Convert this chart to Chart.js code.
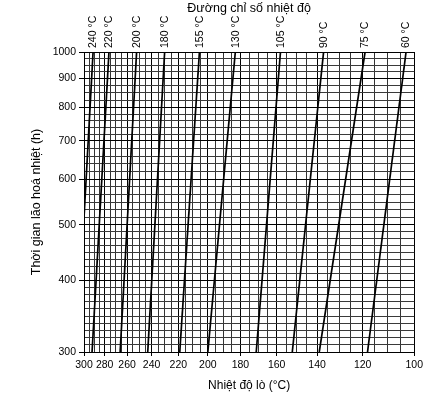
<!DOCTYPE html>
<html><head><meta charset="utf-8">
<script src="https://cdn.jsdelivr.net/npm/chart.js@4/dist/chart.umd.min.js"></script>
<style>html,body{margin:0;padding:0;background:#fff}canvas{display:block}</style>
</head><body>
<canvas id="c" width="426" height="397"></canvas>
<script>
// Temperature index lines (°C) and where each crosses 300 h and 1000 h (oven temperature, °C)
const indexLabels = [240, 220, 200, 180, 155, 130, 105, 90, 75, 60];
const tempAt300h  = [307.5, 292, 266, 243, 219, 200, 171, 152, 139, 118];
const tempAt1000h = [291, 276, 252, 230, 205.5, 183, 158, 137, 119, 103];
const hoursRange  = [300, 1000];
const xTickLabels = [300, 280, 260, 240, 220, 200, 180, 160, 140, 120, 100];
const yTickLabels = [300, 400, 500, 600, 700, 800, 900, 1000];
const xGridStep = 5;
const yMinorDivs = [10, 8, 6, 5, 5, 4, 4];

// reciprocal temperature scale
const toX = T => 1000 / (T + 200);
const fromX = v => Math.round(1000 / v - 200);

const xGridValues = [];
for (let T = xTickLabels[0]; T >= xTickLabels[xTickLabels.length - 1]; T -= xGridStep) xGridValues.push(toX(T));

const yGridValues = [];
for (let i = 0; i < yTickLabels.length - 1; i++) {
  const a = yTickLabels[i], b = yTickLabels[i + 1], n = yMinorDivs[i];
  for (let k = 0; k < n; k++) yGridValues.push(a * Math.pow(b / a, k / n));
}
yGridValues.push(yTickLabels[yTickLabels.length - 1]);

const isMajorY = v => yTickLabels.some(l => Math.abs(l - v) < 1e-6);
const isMajorX = v => xTickLabels.includes(fromX(v));

Chart.defaults.font.family = "'Liberation Sans', Arial, sans-serif";
Chart.defaults.color = '#000';

const datasets = indexLabels.map((lab, i) => ({
  label: lab + ' °C',
  data: [{x: toX(tempAt300h[i]), y: hoursRange[0]}, {x: toX(tempAt1000h[i]), y: hoursRange[1]}],
  borderColor: '#000',
  borderWidth: 1.7,
  pointRadius: 0,
  showLine: true,
  fill: false
}));

new Chart(document.getElementById('c'), {
  type: 'scatter',
  data: { datasets },
  options: {
    responsive: false,
    devicePixelRatio: 1,
    animation: false,
    layout: { padding: { left: 0, right: 10, top: 0, bottom: 0 } },
    plugins: { legend: { display: false }, tooltip: { enabled: false } },
    scales: {
      x: {
        type: 'linear', position: 'bottom',
        min: toX(xTickLabels[0]), max: toX(xTickLabels[xTickLabels.length - 1]),
        afterBuildTicks: s => { s.ticks = xGridValues.map(v => ({ value: v })); },
        afterFit: s => { s.height = 45; },
        ticks: {
          autoSkip: false, minRotation: 0, maxRotation: 0, padding: 3,
          font: { size: 10.5 },
          callback: v => { const T = fromX(v); return xTickLabels.includes(T) ? String(T) : ''; }
        },
        grid: {
          color: ctx => isMajorX(ctx.tick.value) ? '#000' : '#333',
          lineWidth: 1, tickLength: 4,
          tickColor: ctx => isMajorX(ctx.tick.value) ? '#000' : 'rgba(0,0,0,0)'
        },
        border: { color: '#000', width: 1 },
        title: { display: true, text: 'Nhiệt độ lò (°C)', font: { size: 12 }, padding: { top: 0, bottom: 4 } }
      },
      x2: {
        type: 'linear', position: 'top',
        min: toX(xTickLabels[0]), max: toX(xTickLabels[xTickLabels.length - 1]),
        afterBuildTicks: s => { s.ticks = tempAt1000h.map(T => ({ value: toX(T) })); },
        afterFit: s => { s.height = 52; },
        ticks: {
          autoSkip: false, minRotation: 90, maxRotation: 90, padding: 4, labelOffset: 13,
          font: { size: 10.5 },
          callback: (v, i) => indexLabels[i] + ' °C'
        },
        grid: { display: false, drawTicks: false },
        border: { display: false },
        title: { display: true, text: 'Đường chỉ số nhiệt độ', font: { size: 12.5 }, padding: { top: 1, bottom: 0 } }
      },
      y: {
        type: 'logarithmic', position: 'left',
        min: hoursRange[0], max: hoursRange[1],
        afterBuildTicks: s => { s.ticks = yGridValues.map(v => ({ value: v })); },
        afterFit: s => { s.width = 84; },
        ticks: {
          autoSkip: false, padding: 3, font: { size: 10.5 },
          callback: v => isMajorY(v) ? String(Math.round(v)) : ''
        },
        grid: {
          color: ctx => isMajorY(ctx.tick.value) ? '#000' : '#3a3a3a',
          lineWidth: 1, tickLength: 5,
          tickColor: ctx => isMajorY(ctx.tick.value) ? '#000' : 'rgba(0,0,0,0)'
        },
        border: { color: '#000', width: 1 },
        title: { display: true, text: 'Thời gian lão hoá nhiệt (h)', font: { size: 12.5 }, padding: { top: 29, bottom: 0 } }
      }
    }
  }
});
</script>
</body></html>
